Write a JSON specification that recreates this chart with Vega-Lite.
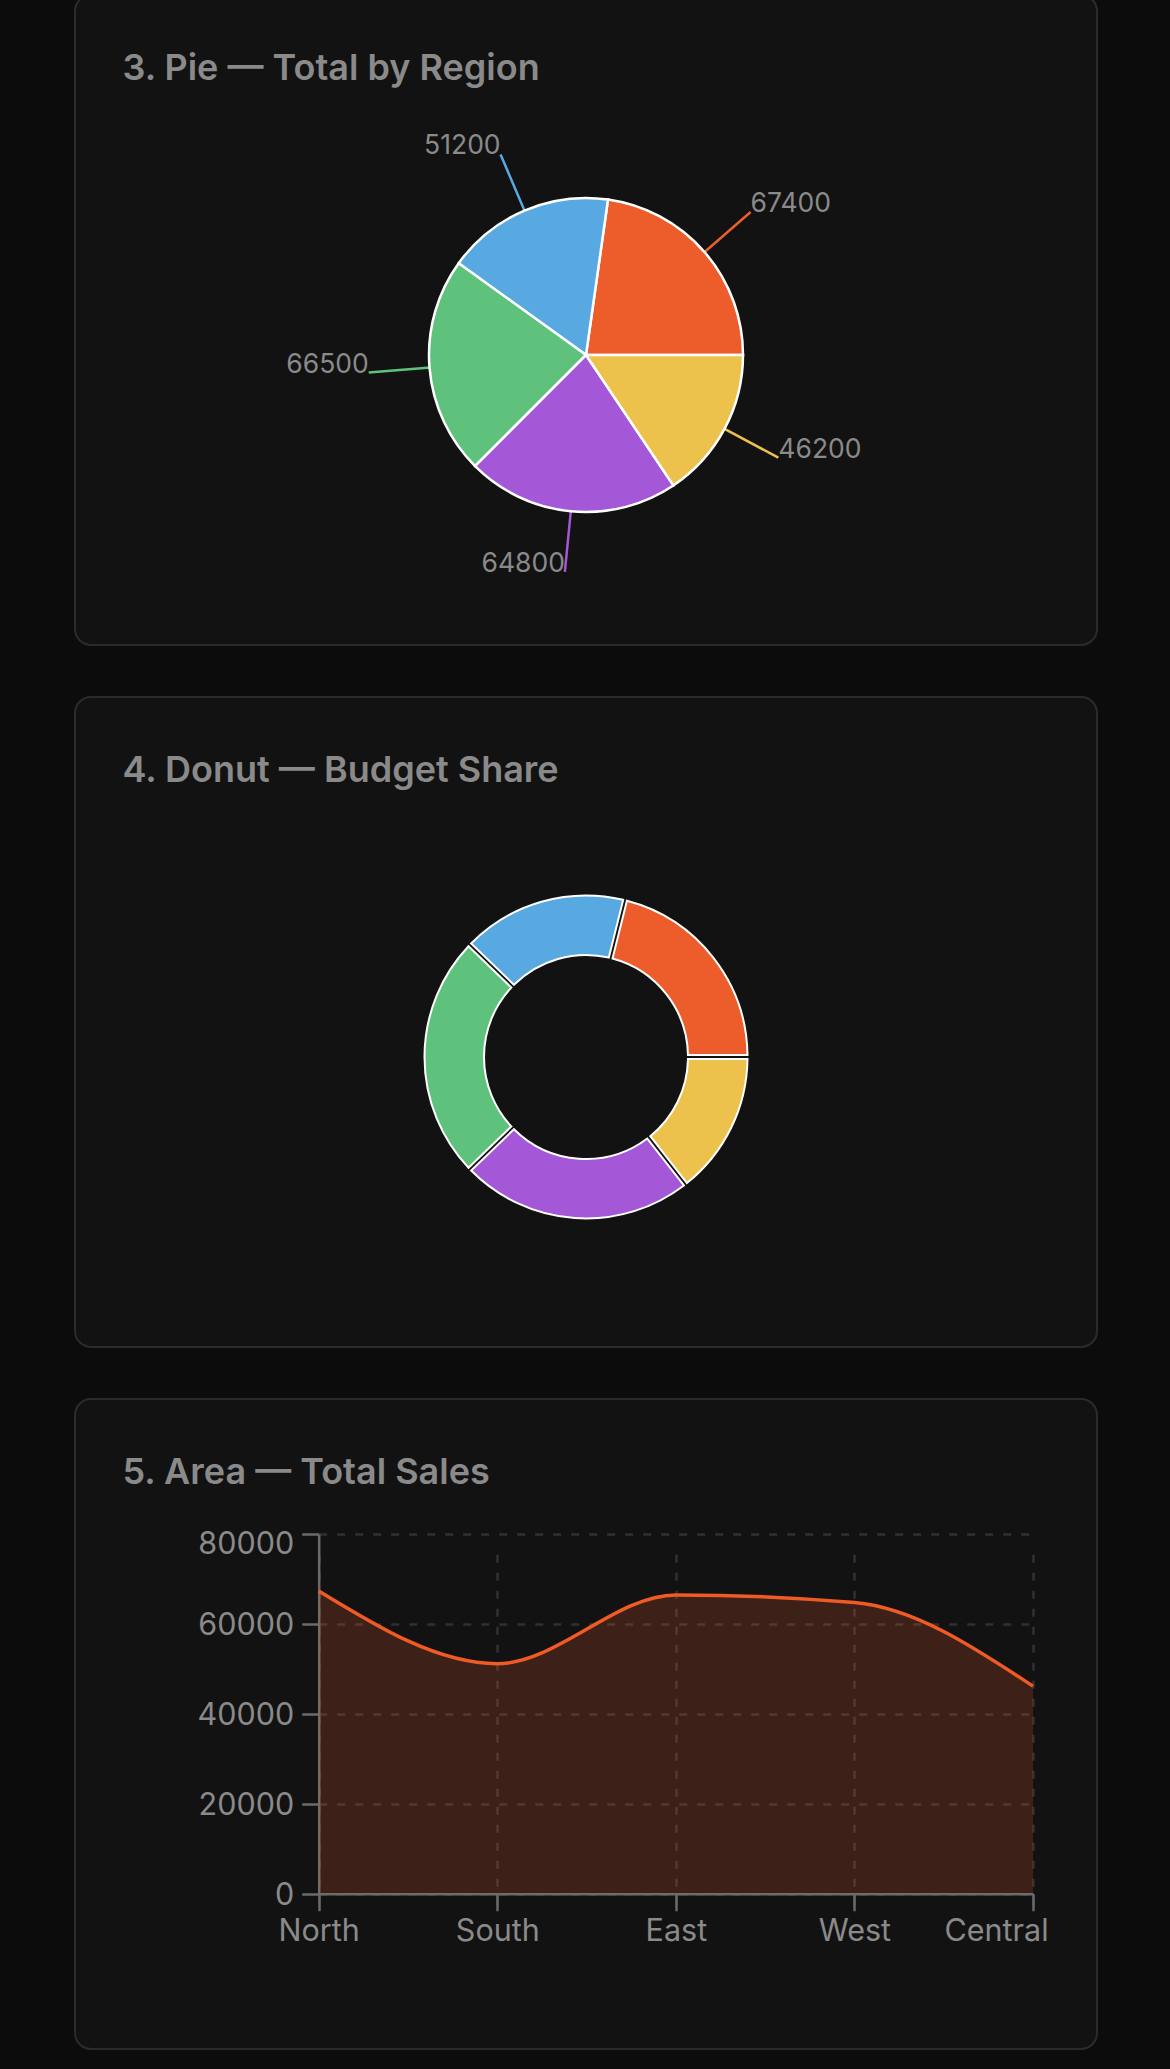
{
  "$schema": "https://vega.github.io/schema/vega-lite/v6.json",
  "background": "#0c0c0c",
  "padding": {"left": 74, "right": 74, "top": -6, "bottom": 21},
  "spacing": 50,
  "config": {
    "font": "Inter",
    "view": {"fill": "#121212", "stroke": "#2b2b2b", "strokeWidth": 2, "cornerRadius": 16},
    "title": {"anchor": "start", "frame": "group", "fontSize": 36, "fontWeight": 600, "color": "#8a8a8a", "font": "Inter", "dx": 47.5, "offset": -93, "baseline": "alphabetic"},
    "legend": {"disable": true}
  },
  "datasets": {
    "sales": [
      {"region": "North", "total": 67400},
      {"region": "South", "total": 51200},
      {"region": "East", "total": 66500},
      {"region": "West", "total": 64800},
      {"region": "Central", "total": 46200}
    ],
    "budget": [
      {"region": "North", "budget": 38},
      {"region": "South", "budget": 30},
      {"region": "East", "budget": 44},
      {"region": "West", "budget": 42},
      {"region": "Central", "budget": 26}
    ]
  },
  "vconcat": [
    {
      "title": {"text": "3. Pie — Total by Region"},
      "width": 1022,
      "height": 650,
      "view": {"fill": "#121212", "stroke": "#2b2b2b", "strokeWidth": 2, "cornerRadius": 16},
      "data": {"name": "sales"},
      "transform": [{"window": [{"op": "row_number", "as": "idx"}]}],
      "encoding": {
        "theta": {"field": "total", "type": "quantitative", "stack": true, "scale": {"range": [1.5708, -4.7124]}},
        "color": {"field": "region", "type": "nominal", "scale": {"domain": ["North", "South", "East", "West", "Central"], "range": ["#ED5D2C", "#58A8E2", "#5EC27C", "#A458D8", "#ECC24C"]}, "legend": null},
        "order": {"field": "idx", "type": "quantitative"}
      },
      "layer": [
        {"mark": {"type": "arc", "filled": false, "radius": 218, "radius2": 156, "padAngle": 2, "strokeWidth": 2.5, "yOffset": 35}},
        {"mark": {"type": "arc", "radius": 157, "stroke": "#ffffff", "strokeWidth": 2.5, "yOffset": 35}},
        {
          "mark": {"type": "text", "radius": 218, "align": "left", "baseline": "alphabetic", "fontSize": 26.5, "yOffset": 35, "font": "Inter"},
          "encoding": {
            "text": {"condition": {"test": "datum.region === 'North' || datum.region === 'Central'", "field": "total", "type": "quantitative", "format": "d"}, "value": ""},
            "fill": {"value": "#8a8a8a"}
          }
        },
        {
          "mark": {"type": "text", "radius": 218, "align": "right", "baseline": "alphabetic", "fontSize": 26.5, "yOffset": 35, "font": "Inter"},
          "encoding": {
            "text": {"condition": {"test": "datum.region !== 'North' && datum.region !== 'Central'", "field": "total", "type": "quantitative", "format": "d"}, "value": ""},
            "fill": {"value": "#8a8a8a"}
          }
        }
      ]
    },
    {
      "title": {"text": "4. Donut — Budget Share"},
      "width": 1022,
      "height": 650,
      "view": {"fill": "#121212", "stroke": "#2b2b2b", "strokeWidth": 2, "cornerRadius": 16},
      "data": {"name": "budget"},
      "transform": [{"window": [{"op": "row_number", "as": "idx"}]}],
      "mark": {"type": "arc", "radius": 161.5, "radius2": 102, "padAngle": 0.02, "stroke": "#ffffff", "strokeWidth": 2, "yOffset": 35},
      "encoding": {
        "theta": {"field": "budget", "type": "quantitative", "stack": true, "scale": {"range": [1.5708, -4.7124]}},
        "color": {"field": "region", "type": "nominal", "scale": {"domain": ["North", "South", "East", "West", "Central"], "range": ["#ED5D2C", "#58A8E2", "#5EC27C", "#A458D8", "#ECC24C"]}, "legend": null},
        "order": {"field": "idx", "type": "quantitative"}
      }
    },
    {
      "title": {"text": "5. Area — Total Sales"},
      "width": 1022,
      "height": 650,
      "data": {"name": "sales"},
      "encoding": {
        "x": {
          "field": "region", "type": "nominal",
          "sort": ["North", "South", "East", "West", "Central"],
          "scale": {"type": "point", "range": [243.7, 958], "padding": 0},
          "axis": {
            "title": null, "orient": "bottom", "offset": -155.3, "labelAngle": 0,
            "domainColor": "#6b6b6b", "domainWidth": 2.5,
            "tickColor": "#6b6b6b", "tickWidth": 2.5, "tickSize": 17,
            "labelColor": "#8a8a8a", "labelFontSize": 30.5, "labelFont": "Inter", "labelPadding": 6,
            "labelOffset": {"condition": {"test": "datum.value === 'Central'", "value": -37}, "value": 0},
            "grid": true, "gridColor": "#303030", "gridDash": [8, 10], "gridWidth": 2.5
          }
        },
        "y": {
          "field": "total", "type": "quantitative",
          "scale": {"domain": [0, 80000], "range": [494.7, 135.3], "nice": false},
          "axis": {
            "title": null, "offset": -243.7, "values": [0, 20000, 40000, 60000, 80000], "format": "d",
            "domainColor": "#6b6b6b", "domainWidth": 2.5,
            "tickColor": "#6b6b6b", "tickWidth": 2.5, "tickSize": 17,
            "labelColor": "#8a8a8a", "labelFontSize": 30.5, "labelFont": "Inter", "labelPadding": 8, "labelFlush": false,
            "labelOffset": {"condition": {"test": "datum.value === 80000", "value": 10}, "value": 1.5},
            "grid": true, "gridColor": "#303030", "gridDash": [8, 10], "gridWidth": 2.5
          }
        }
      },
      "layer": [
        {"mark": {"type": "area", "interpolate": "monotone", "color": "#ED5B2B", "fillOpacity": 0.2}},
        {"mark": {"type": "line", "interpolate": "monotone", "color": "#F05A24", "strokeWidth": 3.5}}
      ]
    }
  ]
}
